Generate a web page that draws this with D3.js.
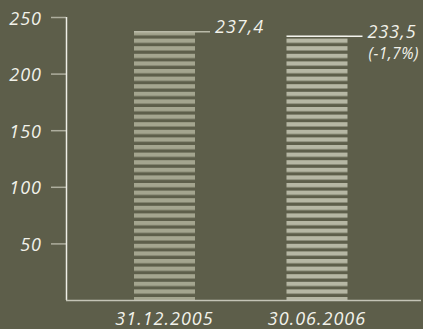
<!DOCTYPE html>
<html>
<head>
<meta charset="utf-8">
<script src="https://cdn.jsdelivr.net/npm/d3@7"></script>
<style>
  body { margin: 0; background: #5d5e4a; }
  svg { display: block; }
  text { font-family: "Open Sans", sans-serif; font-style: italic; fill: #f2f2ea; }
</style>
</head>
<body>
<svg width="423" height="329"></svg>
<script>
// data
var dates = ["31.12.2005", "30.06.2006"];
var values = [237.4, 233.5];
var changes = ["", "(-1,7%)"];
var yTicks = [50, 100, 150, 200, 250];
var stripeColors = ["#a4a58f", "#b6b7a4"];
var capColors = ["#b9baa8", "#f4f4ee"];

var svg = d3.select("svg"),
    width = +svg.attr("width"),
    height = +svg.attr("height");

var fmt = d3.formatLocale({decimal: ",", thousands: ".", grouping: [3], currency: ["", ""]}).format(".1f");

// scales
var y = d3.scaleLinear()
    .domain([0, 250])
    .range([300, 17]);

var x = d3.scaleBand()
    .domain(dates)
    .range([66, 415.5])
    .paddingInner(0.6)
    .paddingOuter(0.446);

// stripe patterns, one per bar
var defs = svg.append("defs");
dates.forEach(function(d, i) {
    var p = defs.append("pattern")
        .attr("id", "stripes" + i)
        .attr("patternUnits", "userSpaceOnUse")
        .attr("x", 0)
        .attr("y", 297 - 7.6 * 40)
        .attr("width", 10)
        .attr("height", 7.6);
    p.append("rect")
        .attr("width", 10)
        .attr("height", 4.3)
        .attr("fill", stripeColors[i]);
});

// bars
svg.append("g")
    .selectAll("rect")
    .data(values)
    .enter().append("rect")
    .attr("x", function(d, i) { return x(dates[i]); })
    .attr("y", function(d) { return y(d); })
    .attr("width", x.bandwidth())
    .attr("height", function(d) { return y(0) - y(d); })
    .attr("fill", function(d, i) { return "url(#stripes" + i + ")"; });

// cap + leader lines
svg.append("g")
    .selectAll("line")
    .data(values)
    .enter().append("line")
    .attr("x1", function(d, i) { return x(dates[i]); })
    .attr("x2", function(d, i) { return x(dates[i]) + x.bandwidth() + 15; })
    .attr("y1", function(d) { return y(d) + 0.5; })
    .attr("y2", function(d) { return y(d) + 0.5; })
    .style("stroke", function(d, i) { return capColors[i]; })
    .style("stroke-width", 1.6);

// value labels
svg.append("g")
    .selectAll("text")
    .data(values)
    .enter().append("text")
    .attr("x", function(d, i) { return x(dates[i]) + x.bandwidth() + 20; })
    .attr("y", function(d) { return y(d) + 2; })
    .style("font-size", "18px")
    .style("letter-spacing", "1px")
    .text(function(d) { return fmt(d); });

// change labels
svg.append("g")
    .selectAll("text")
    .data(values)
    .enter().append("text")
    .attr("x", function(d, i) { return x(dates[i]) + x.bandwidth() + 21; })
    .attr("y", function(d) { return y(d) + 23; })
    .style("font-size", "15.5px")
    .style("letter-spacing", "0.5px")
    .text(function(d, i) { return changes[i]; });

// y axis
var yAxis = svg.append("g");
yAxis.selectAll("line")
    .data(yTicks)
    .enter().append("line")
    .attr("x1", 51)
    .attr("x2", 66)
    .attr("y1", function(d) { return y(d) + 0.5; })
    .attr("y2", function(d) { return y(d) + 0.5; })
    .style("stroke", "#aeae9e")
    .style("stroke-width", 1.5);

yAxis.selectAll("text")
    .data(yTicks)
    .enter().append("text")
    .attr("x", 42)
    .attr("y", function(d) { return y(d); })
    .attr("dy", "0.42em")
    .attr("text-anchor", "end")
    .style("font-size", "18px")
    .style("letter-spacing", "1px")
    .text(function(d) { return d; });

yAxis.append("line")
    .attr("x1", 66.5).attr("x2", 66.5)
    .attr("y1", y(250)).attr("y2", y(0))
    .style("stroke", "#eeeee6")
    .style("stroke-width", 1.5);

// baseline
svg.append("line")
    .attr("x1", 66).attr("x2", 421)
    .attr("y1", y(0) + 0.5).attr("y2", y(0) + 0.5)
    .style("stroke", "#c4c4b6")
    .style("stroke-width", 1.6);

// category labels
svg.append("g")
    .selectAll("text")
    .data(dates)
    .enter().append("text")
    .attr("x", function(d) { return x(d) + x.bandwidth() / 2; })
    .attr("y", 325)
    .attr("text-anchor", "middle")
    .style("font-size", "18px")
    .style("letter-spacing", "1px")
    .text(function(d) { return d; });
</script>
</body>
</html>
